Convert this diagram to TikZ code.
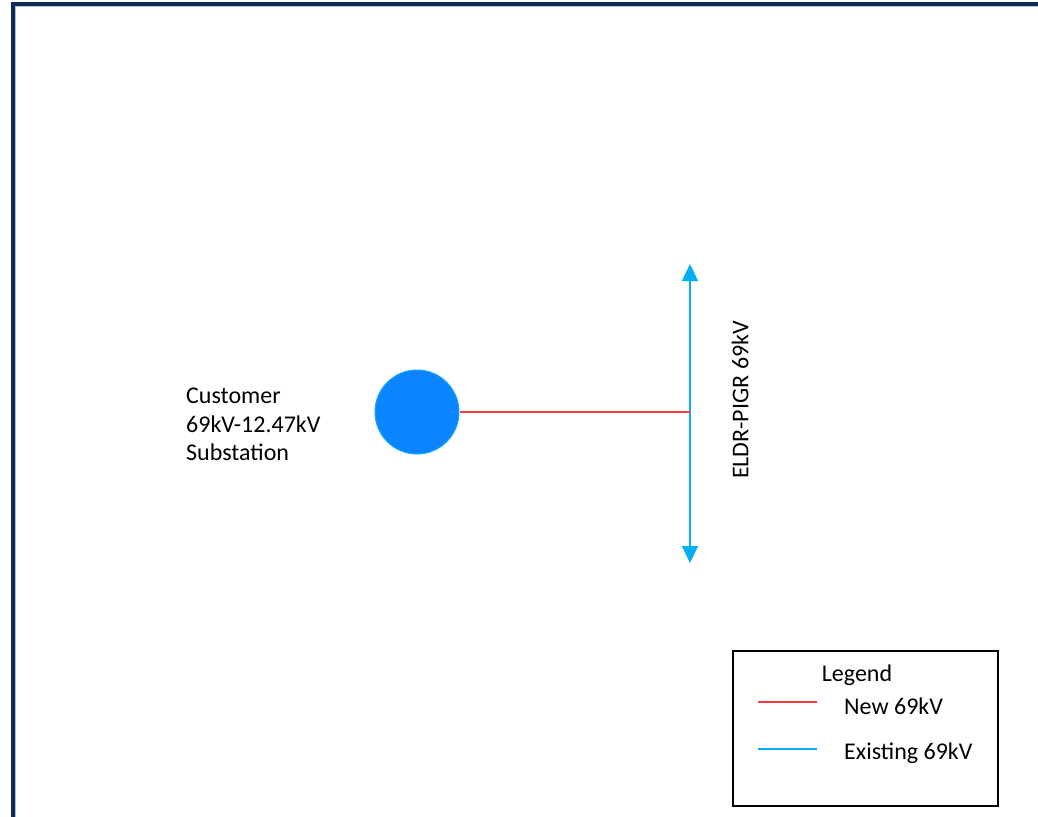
\documentclass[tikz,border=0pt]{standalone}
\usepackage{fontspec}
\setmainfont{Carlito}
\usetikzlibrary{arrows.meta}
\definecolor{navy}{HTML}{0D2B55}
\definecolor{framelight}{HTML}{A9BFDA}
\definecolor{subfill}{HTML}{0A84FF}
\definecolor{subedge}{HTML}{1AA6F0}
\definecolor{existing}{HTML}{00B0F0}
\definecolor{newline}{HTML}{FF3B3B}
\tikzset{
  lbl/.style={font=\fontsize{24}{28.5}\selectfont, inner sep=0pt},
  newl/.style={draw=newline, line width=1.1pt},
  exl/.style={draw=existing, line width=1.2pt},
}
\begin{document}
\begin{tikzpicture}[x=1pt,y=-1pt]
\useasboundingbox (0,0) rectangle (1038,816);
\fill[white] (0,0) rectangle (1038,816);
% frame
\draw[framelight, line width=1.2pt] (15.5,830) -- (15.5,6.5) -- (1050,6.5);
\draw[navy, line width=3.2pt] (13,830) -- (13,4) -- (1050,4);
% substation
\node[circle, fill=subfill, draw=subedge, line width=1pt, minimum size=84pt, inner sep=0pt] (sub) at (417,412) {};
\node[lbl, anchor=west, align=left] (sublbl) at (186,424.5) {Customer\\69kV-12.47kV\\Substation};
% existing line
\coordinate (ltop) at (690,264);
\coordinate (lbot) at (690,563);
\coordinate (tap) at (690,412);
\draw[exl, {Triangle[width=16pt,length=17pt]}-{Triangle[width=16pt,length=17pt]}, fill=existing] (lbot) -- (ltop);
\draw[newl] (sub.east) -- (tap);
\node[lbl, rotate=90] (linelbl) at (740,400) {ELDR-PIGR 69kV};
% legend
\node[draw=black, line width=2pt, minimum width=265pt, minimum height=155pt, inner sep=0pt] (legend) at (865.5,728.5) {};
\node[lbl] (legtitle) at (857,675) {Legend};
\coordinate (r1a) at (758,702);
\coordinate (r1b) at (817,702);
\coordinate (r2a) at (758,749);
\coordinate (r2b) at (817,749);
\draw[newl] (r1a) -- (r1b);
\draw[exl] (r2a) -- (r2b);
\node[lbl, anchor=west] (legnew) at (844,706) {New 69kV};
\node[lbl, anchor=west] (legex) at (844,753) {Existing 69kV};
\end{tikzpicture}
\end{document}
